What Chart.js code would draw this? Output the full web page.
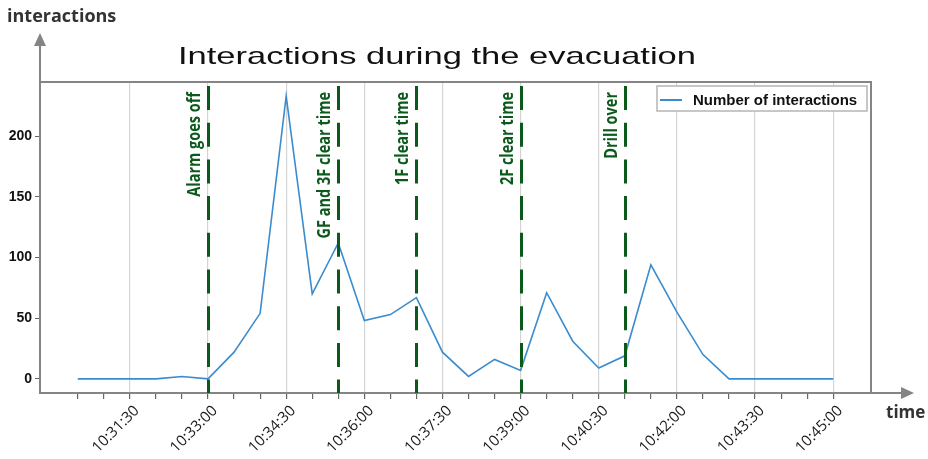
<!DOCTYPE html>
<html>
<head>
<meta charset="utf-8">
<script src="https://cdn.jsdelivr.net/npm/chart.js@4.4.1/dist/chart.umd.min.js"></script>
<style>
html,body{margin:0;padding:0;background:#fff;}
#wrap{width:928px;height:459px;position:relative;}
</style>
</head>
<body>
<div id="wrap"><canvas id="c" width="928" height="459"></canvas></div>
<script>
// ---- data ----
const times = ['10:30:30','10:31:00','10:31:30','10:32:00','10:32:30','10:33:00','10:33:30','10:34:00','10:34:30','10:35:00',
               '10:35:30','10:36:00','10:36:30','10:37:00','10:37:30','10:38:00','10:38:30','10:39:00','10:39:30','10:40:00',
               '10:40:30','10:41:00','10:41:30','10:42:00','10:42:30','10:43:00','10:43:30','10:44:00','10:44:30','10:45:00'];
const interactions = [0,0,0,0,2,0,22,54,233,70,
                      112,48,53,67,22,2,16,7,71,31,
                      9,19,94,55,20,0,0,0,0,0];
const xTickLabels = ['10:31:30','10:33:00','10:34:30','10:36:00','10:37:30','10:39:00','10:40:30','10:42:00','10:43:30','10:45:00'];
const yTickValues = [0,50,100,150,200];
const eventTimes = ['10:33:00','10:35:30','10:37:00','10:39:00','10:41:00'];
const eventLabels = ['Alarm goes off','GF and 3F clear time','1F clear time','2F clear time','Drill over'];
const seriesName = 'Number of interactions';
const titleText = 'Interactions during the evacuation';
const xAxisName = 'time';
const yAxisName = 'interactions';

// ---- helpers ----
function toSec(t){const p=t.split(':').map(Number);return p[0]*3600+p[1]*60+p[2];}
function fmt(s){const h=Math.floor(s/3600),m=Math.floor((s%3600)/60),ss=s%60;
  return h+':'+String(m).padStart(2,'0')+':'+String(ss).padStart(2,'0');}
const xs = times.map(toSec);
const xMin = xs[0], xMax = xs[xs.length-1];
const xPad = (xMax-xMin)*0.05;
const yDataMax = Math.max(...interactions), yDataMin = Math.min(...interactions);
const yPad = (yDataMax-yDataMin)*0.05;

const GREEN = '#0b5a1c';
const SPINE = '#858585';
const BLUE = '#3a8cce';

const decor = {
  id:'decor',
  afterDatasetsDraw(chart){
    const ctx = chart.ctx, xS = chart.scales.x, a = chart.chartArea;
    ctx.save();
    ctx.strokeStyle = GREEN; ctx.lineWidth = 3;
    ctx.setLineDash([24,12.7]);
    ctx.lineDashOffset = 32.7;
    eventTimes.forEach((t,i)=>{
      const px = Math.round(xS.getPixelForValue(toSec(t)))+0.5;
      ctx.beginPath(); ctx.moveTo(px,a.top); ctx.lineTo(px,a.bottom); ctx.stroke();
    });
    ctx.setLineDash([]);
    ctx.fillStyle = GREEN;
    ctx.font = 'bold 14.5px "Open Sans"';
    ctx.textAlign = 'right'; ctx.textBaseline = 'alphabetic';
    eventTimes.forEach((t,i)=>{
      const px = xS.getPixelForValue(toSec(t));
      ctx.save();
      ctx.translate(px-8, a.top+10);
      ctx.rotate(-Math.PI/2);
      ctx.scale(1,1.18);
      ctx.fillText(eventLabels[i],0,0);
      ctx.restore();
    });
    ctx.restore();
  },
  afterDraw(chart){
    const ctx = chart.ctx, a = chart.chartArea;
    ctx.save();
    ctx.strokeStyle = SPINE; ctx.lineWidth = 2;
    ctx.beginPath();
    ctx.moveTo(a.left, a.top); ctx.lineTo(a.right, a.top); ctx.lineTo(a.right, a.bottom);
    ctx.stroke();
    ctx.beginPath();
    ctx.moveTo(a.left, a.top); ctx.lineTo(a.left, 44);
    ctx.moveTo(a.right, a.bottom); ctx.lineTo(903, a.bottom);
    ctx.stroke();
    ctx.fillStyle = SPINE;
    ctx.beginPath(); ctx.moveTo(a.left,33); ctx.lineTo(a.left-6,46); ctx.lineTo(a.left+6,46); ctx.closePath(); ctx.fill();
    ctx.beginPath(); ctx.moveTo(914,a.bottom); ctx.lineTo(901,a.bottom-6); ctx.lineTo(901,a.bottom+6); ctx.closePath(); ctx.fill();
    ctx.fillStyle = '#333';
    ctx.font = 'bold 18px "Open Sans"';
    ctx.textAlign = 'left'; ctx.textBaseline = 'alphabetic';
    ctx.fillText(yAxisName, 7, 22);
    ctx.font = 'bold 17px "Open Sans"';
    ctx.fillText(xAxisName, 886, 418);
    ctx.fillStyle = '#111';
    ctx.font = '24px "Liberation Sans"';
    const w = ctx.measureText(titleText).width;
    const sx = 518/w;
    ctx.save();
    ctx.translate(437,64); ctx.scale(sx,1);
    ctx.textAlign='center';
    ctx.fillText(titleText,0,0);
    ctx.restore();
    const lx=657, ly=86, lw=210, lh=25;
    ctx.fillStyle='#fff'; ctx.fillRect(lx,ly,lw,lh);
    ctx.strokeStyle='#b5b5b5'; ctx.lineWidth=1.5; ctx.strokeRect(lx,ly,lw,lh);
    ctx.strokeStyle=BLUE; ctx.lineWidth=2;
    ctx.beginPath(); ctx.moveTo(lx+3,ly+14); ctx.lineTo(lx+25,ly+14); ctx.stroke();
    ctx.fillStyle='#111'; ctx.font='bold 15px "Liberation Sans"';
    ctx.textAlign='left';
    ctx.fillText(chart.data.datasets[0].label, lx+36, ly+18.5);
    ctx.restore();
  }
};

new Chart(document.getElementById('c'), {
  type:'line',
  data:{
    datasets:[{
      label: seriesName,
      data: xs.map((x,i)=>({x:x,y:interactions[i]})),
      borderColor: BLUE, borderWidth:1.6, pointRadius:0, tension:0, fill:false
    }]
  },
  options:{
    responsive:false, animation:false, devicePixelRatio:1,
    layout:{padding:{top:82,right:57,left:0,bottom:0}},
    plugins:{legend:{display:false}, title:{display:false}, tooltip:{enabled:false}},
    scales:{
      x:{
        type:'linear', min:xMin-xPad, max:xMax+xPad,
        afterBuildTicks(s){ s.ticks = xs.map(v=>({value:v})); },
        afterFit(s){ s.height = 66; },
        ticks:{
          autoSkip:false, minRotation:45, maxRotation:45, padding:3, labelOffset:7,
          color:'#1a1a1a', font:{family:'"Open Sans"', size:15},
          callback(v){ const f=fmt(v); return xTickLabels.includes(f)?f:''; }
        },
        grid:{
          color(c){ return (c.tick && xTickLabels.includes(fmt(c.tick.value)))?'#d4d4d4':'rgba(0,0,0,0)'; },
          lineWidth:1.2, tickColor:'#666', tickLength:6, drawOnChartArea:true
        },
        border:{color:SPINE, width:2}
      },
      y:{
        type:'linear', min:yDataMin-yPad, max:yDataMax+yPad,
        afterBuildTicks(s){ s.ticks = yTickValues.map(v=>({value:v})); },
        afterFit(s){ s.width = 40; },
        ticks:{ padding:3, color:'#111', font:{family:'"Liberation Sans"', size:14, weight:'bold'} },
        grid:{ drawOnChartArea:false, tickColor:'#666', tickLength:5 },
        border:{color:SPINE, width:2}
      }
    }
  },
  plugins:[decor]
});
</script>
</body>
</html>
